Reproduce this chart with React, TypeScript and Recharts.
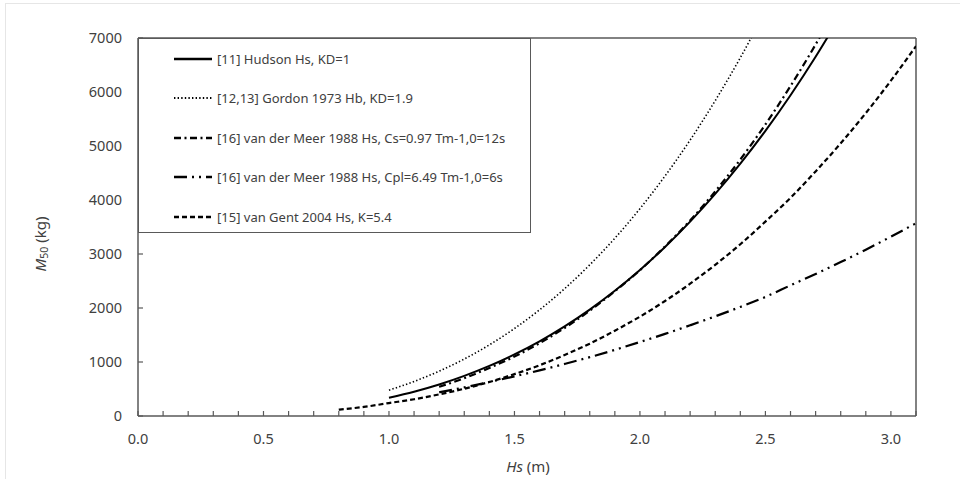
import React from "react";
import {
  Legend,
  Line,
  LineChart,
  ReferenceLine,
  XAxis,
  YAxis,
} from "recharts";

// Hs (m) sample points and M50 (kg) values
const hudsonHs = [1.0, 1.1, 1.2, 1.3, 1.4, 1.5, 1.6, 1.7, 1.8, 1.9, 2.0, 2.1, 2.2, 2.3, 2.4, 2.5, 2.6, 2.7, 2.8];
const hudsonM = [338, 450, 584, 743, 927, 1141, 1384, 1661, 1971, 2318, 2704, 3130, 3599, 4112, 4673, 5281, 5941, 6653, 7419];

const gordonHs = [1.0, 1.1, 1.2, 1.3, 1.4, 1.5, 1.6, 1.7, 1.8, 1.9, 2.0, 2.1, 2.2, 2.3, 2.4, 2.5];
const gordonM = [478, 640, 830, 1055, 1317, 1620, 1966, 2358, 2800, 3292, 3840, 4445, 5110, 5840, 6635, 7500];

const meerCsHs = [1.2, 1.3, 1.4, 1.5, 1.6, 1.7, 1.8, 1.9, 2.0, 2.1, 2.2, 2.3, 2.4, 2.5, 2.6, 2.7, 2.8];
const meerCsM = [540, 700, 890, 1100, 1350, 1630, 1950, 2310, 2700, 3140, 3620, 4160, 4750, 5400, 6110, 6880, 7720];

const meerCplHs = [1.2, 1.3, 1.4, 1.5, 1.6, 1.7, 1.8, 1.9, 2.0, 2.1, 2.2, 2.3, 2.4, 2.5, 2.6, 2.7, 2.8, 2.9, 3.0, 3.1];
const meerCplM = [440, 530, 630, 735, 845, 965, 1090, 1225, 1370, 1520, 1680, 1845, 2020, 2205, 2420, 2630, 2850, 3080, 3320, 3570];

const gentHs = [0.8, 0.9, 1.0, 1.1, 1.2, 1.3, 1.4, 1.5, 1.6, 1.7, 1.8, 1.9, 2.0, 2.1, 2.2, 2.3, 2.4, 2.5, 2.6, 2.7, 2.8, 2.9, 3.0, 3.1];
const gentM = [118, 168, 240, 310, 400, 505, 630, 776, 940, 1130, 1340, 1580, 1840, 2130, 2450, 2800, 3180, 3600, 4040, 4530, 5050, 5610, 6210, 6850];

const xTicks = [0, 0.1, 0.2, 0.3, 0.4, 0.5, 0.6, 0.7, 0.8, 0.9, 1.0, 1.1, 1.2, 1.3, 1.4, 1.5, 1.6, 1.7, 1.8, 1.9, 2.0, 2.1, 2.2, 2.3, 2.4, 2.5, 2.6, 2.7, 2.8, 2.9, 3.0, 3.1];
const xLabelTicks = [0, 0.5, 1.0, 1.5, 2.0, 2.5, 3.0];
const yTicks = [0, 1000, 2000, 3000, 4000, 5000, 6000, 7000];

const legendLabels = [
  "[11] Hudson Hs, KD=1",
  "[12,13] Gordon 1973 Hb, KD=1.9",
  "[16] van der Meer 1988 Hs, Cs=0.97 Tm-1,0=12s",
  "[16] van der Meer 1988 Hs, Cpl=6.49 Tm-1,0=6s",
  "[15] van Gent 2004 Hs, K=5.4",
];

const zip = (hs: number[], m: number[]) => hs.map((h, i) => ({ hs: h, m: m[i] }));

const series = [
  { key: "hudson", data: zip(hudsonHs, hudsonM), dash: undefined, width: 2 },
  { key: "gordon", data: zip(gordonHs, gordonM), dash: "1.4 2.2", width: 1.6 },
  { key: "meerCs", data: zip(meerCsHs, meerCsM), dash: "7 3.5 2 3.5", width: 2.2 },
  { key: "meerCpl", data: zip(meerCplHs, meerCplM), dash: "13 5 2 5 2 5", width: 2.2 },
  { key: "gent", data: zip(gentHs, gentM), dash: "5 3", width: 2.2 },
];

const AXIS = "#595959";
const TEXT = "#404040";
const FONT = "'Noto Sans', sans-serif";

const XTick = (props: any) => {
  const { x, y, payload } = props;
  const v = payload.value;
  const major = xLabelTicks.some((t) => Math.abs(t - v) < 1e-6);
  return (
    <g>
      <line x1={x} y1={y} x2={x} y2={y - 5} stroke={AXIS} strokeWidth={1.2} />
      {major && (
        <text x={x} y={y + 28} textAnchor="middle" fill={TEXT} fontSize={14.5} fontFamily={FONT}>
          {v.toFixed(1)}
        </text>
      )}
    </g>
  );
};

const YTick = (props: any) => {
  const { x, y, payload } = props;
  return (
    <g>
      <line x1={x} y1={y} x2={x + 5} y2={y} stroke={AXIS} strokeWidth={1.2} />
      <text x={x - 16} y={y + 5} textAnchor="end" fill={TEXT} fontSize={14.5} fontFamily={FONT}>
        {payload.value}
      </text>
    </g>
  );
};

const YTitle = () => (
  <text
    x={40}
    y={244}
    transform="rotate(-90, 40, 244)"
    textAnchor="middle"
    dominantBaseline="central"
    fill={TEXT}
    fontSize={15}
    fontFamily={FONT}
  >
    <tspan fontStyle="italic">M</tspan>
    <tspan fontSize={10.5} dy={4}>50</tspan>
    <tspan dy={-4}> (kg)</tspan>
  </text>
);

const XTitle = () => (
  <text x={528} y={472} textAnchor="middle" fill={TEXT} fontSize={15} fontFamily={FONT}>
    <tspan fontStyle="italic">Hs</tspan>
    <tspan> (m)</tspan>
  </text>
);

const LegendBox = () => (
  <div
    style={{
      width: 393,
      height: 195,
      boxSizing: "border-box",
      border: `1.5px solid ${AXIS}`,
      background: "white",
    }}
  >
    {series.map((s, i) => (
      <div key={s.key} style={{ display: "flex", alignItems: "center", height: 39.5, marginLeft: 35 }}>
        <svg width={39} height={10} style={{ flex: "none" }}>
          <line x1={0} y1={5} x2={38} y2={5} stroke="#000" strokeWidth={s.width + 0.4} strokeDasharray={s.dash} />
        </svg>
        <span style={{ marginLeft: 4, fontSize: 13, color: TEXT, fontFamily: FONT, whiteSpace: "nowrap" }}>
          {legendLabels[i]}
        </span>
      </div>
    ))}
  </div>
);

export default function App() {
  return (
    <div style={{ position: "relative", width: 960, height: 479, background: "white" }}>
      <style>{"body{margin:0;}"}</style>
      <div
        style={{
          position: "absolute",
          left: 5,
          top: 3,
          width: 955,
          height: 476,
          borderLeft: "1px solid #e6e6e6",
          borderTop: "1px solid #e6e6e6",
        }}
      />
      <LineChart width={960} height={479} margin={{ top: 38, right: 44, bottom: 0, left: 0 }}>
        <XAxis
          dataKey="hs"
          type="number"
          domain={[0, 3.1]}
          ticks={xTicks}
          interval={0}
          allowDataOverflow
          height={63}
          tickSize={0}
          tickMargin={0}
          tick={<XTick />}
          stroke={AXIS}
          strokeWidth={1.5}
          label={<XTitle />}
        />
        <YAxis
          type="number"
          domain={[0, 7000]}
          ticks={yTicks}
          interval={0}
          allowDataOverflow
          width={138}
          tickSize={0}
          tickMargin={0}
          tick={<YTick />}
          stroke={AXIS}
          strokeWidth={1.5}
          label={<YTitle />}
        />
        <ReferenceLine y={7000} stroke={AXIS} strokeWidth={1.5} />
        <ReferenceLine x={3.1} stroke={AXIS} strokeWidth={1.5} />
        {series.map((s) => (
          <Line
            key={s.key}
            data={s.data}
            dataKey="m"
            type="monotone"
            stroke="#000"
            strokeWidth={s.width}
            strokeDasharray={s.dash}
            dot={false}
            activeDot={false}
            isAnimationActive={false}
          />
        ))}
        <Legend
          layout="vertical"
          align="center"
          verticalAlign="middle"
          content={<LegendBox />}
          wrapperStyle={{ top: 38, left: 138, width: 393, height: 195 }}
        />
      </LineChart>
    </div>
  );
}
